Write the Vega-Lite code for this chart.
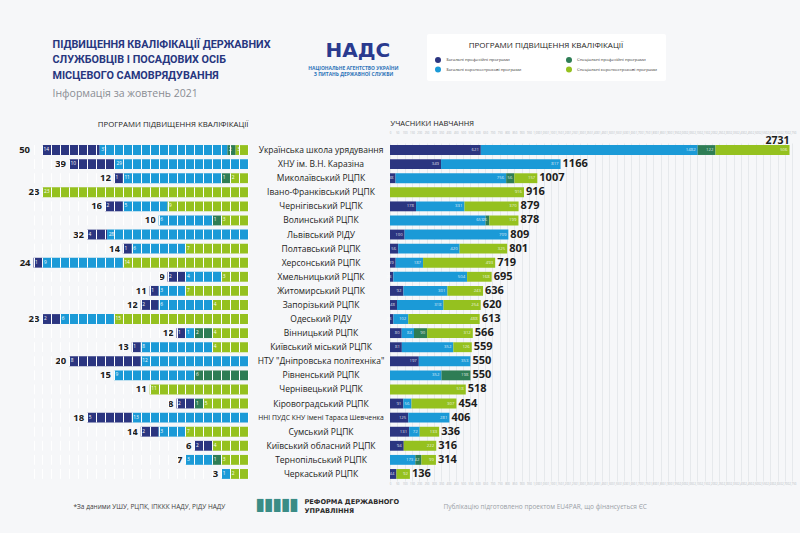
{
"$schema":"https://vega.github.io/schema/vega-lite/v6.json",
"width":800,"height":338,
"autosize":{"type":"none"},
"padding":{"left":0,"right":0,"top":143,"bottom":52},
"background":"#f6f7f9",
"config":{"font":"Open Sans","view":{"stroke":null},"mark":{"font":"Open Sans"},"axis":{"labelFont":"Open Sans","titleFont":"Open Sans"},"legend":{"labelFont":"Open Sans","titleFont":"Open Sans"}},
"datasets":{
"p":[
{"i":"Українська школа урядування","c":"A","n":14},{"i":"Українська школа урядування","c":"B","n":31},{"i":"Українська школа урядування","c":"C","n":2},{"i":"Українська школа урядування","c":"D","n":3},
{"i":"ХНУ ім. В.Н. Каразіна","c":"A","n":10},{"i":"ХНУ ім. В.Н. Каразіна","c":"B","n":29},
{"i":"Миколаївський РЦПК","c":"A","n":1},{"i":"Миколаївський РЦПК","c":"B","n":11},{"i":"Миколаївський РЦПК","c":"C","n":1},{"i":"Миколаївський РЦПК","c":"D","n":2},
{"i":"Івано-Франківський РЦПК","c":"D","n":23},
{"i":"Чернігівський РЦПК","c":"A","n":2},{"i":"Чернігівський РЦПК","c":"B","n":5},{"i":"Чернігівський РЦПК","c":"D","n":9},
{"i":"Волинський РЦПК","c":"B","n":6},{"i":"Волинський РЦПК","c":"C","n":1},{"i":"Волинський РЦПК","c":"D","n":3},
{"i":"Львівський РІДУ","c":"A","n":4},{"i":"Львівський РІДУ","c":"B","n":28},
{"i":"Полтавський РЦПК","c":"A","n":1},{"i":"Полтавський РЦПК","c":"B","n":6},{"i":"Полтавський РЦПК","c":"D","n":7},
{"i":"Херсонський РЦПК","c":"A","n":1},{"i":"Херсонський РЦПК","c":"B","n":9},{"i":"Херсонський РЦПК","c":"D","n":14},
{"i":"Хмельницький РЦПК","c":"A","n":2},{"i":"Хмельницький РЦПК","c":"B","n":4},{"i":"Хмельницький РЦПК","c":"D","n":3},
{"i":"Житомирський РЦПК","c":"A","n":1},{"i":"Житомирський РЦПК","c":"B","n":3},{"i":"Житомирський РЦПК","c":"D","n":7},
{"i":"Запорізький РЦПК","c":"A","n":2},{"i":"Запорізький РЦПК","c":"B","n":6},{"i":"Запорізький РЦПК","c":"D","n":4},
{"i":"Одеський РІДУ","c":"A","n":2},{"i":"Одеський РІДУ","c":"B","n":6},{"i":"Одеський РІДУ","c":"D","n":15},
{"i":"Вінницький РЦПК","c":"A","n":1},{"i":"Вінницький РЦПК","c":"B","n":1},{"i":"Вінницький РЦПК","c":"C","n":2},{"i":"Вінницький РЦПК","c":"D","n":4},
{"i":"Київський міський РЦПК","c":"A","n":1},{"i":"Київський міський РЦПК","c":"B","n":8},{"i":"Київський міський РЦПК","c":"D","n":4},
{"i":"НТУ \"Дніпровська політехніка\"","c":"A","n":8},{"i":"НТУ \"Дніпровська політехніка\"","c":"B","n":12},
{"i":"Рівненський РЦПК","c":"B","n":9},{"i":"Рівненський РЦПК","c":"C","n":6},
{"i":"Чернівецький РЦПК","c":"D","n":11},
{"i":"Кіровоградський РЦПК","c":"A","n":2},{"i":"Кіровоградський РЦПК","c":"C","n":1},{"i":"Кіровоградський РЦПК","c":"D","n":5},
{"i":"ННІ ПУДС КНУ імені Тараса Шевченка","c":"A","n":5},{"i":"ННІ ПУДС КНУ імені Тараса Шевченка","c":"B","n":13},
{"i":"Сумський РЦПК","c":"A","n":2},{"i":"Сумський РЦПК","c":"B","n":3},{"i":"Сумський РЦПК","c":"D","n":7},
{"i":"Київський обласний РЦПК","c":"A","n":2},{"i":"Київський обласний РЦПК","c":"D","n":4},
{"i":"Тернопільський РЦПК","c":"B","n":3},{"i":"Тернопільський РЦПК","c":"C","n":1},{"i":"Тернопільський РЦПК","c":"D","n":3},
{"i":"Черкаський РЦПК","c":"B","n":1},{"i":"Черкаський РЦПК","c":"D","n":2}
],
"pt":[
{"i":"Українська школа урядування","t":50},{"i":"ХНУ ім. В.Н. Каразіна","t":39},{"i":"Миколаївський РЦПК","t":12},{"i":"Івано-Франківський РЦПК","t":23},{"i":"Чернігівський РЦПК","t":16},{"i":"Волинський РЦПК","t":10},{"i":"Львівський РІДУ","t":32},{"i":"Полтавський РЦПК","t":14},{"i":"Херсонський РЦПК","t":24},{"i":"Хмельницький РЦПК","t":9},{"i":"Житомирський РЦПК","t":11},{"i":"Запорізький РЦПК","t":12},{"i":"Одеський РІДУ","t":23},{"i":"Вінницький РЦПК","t":12},{"i":"Київський міський РЦПК","t":13},{"i":"НТУ \"Дніпровська політехніка\"","t":20},{"i":"Рівненський РЦПК","t":15},{"i":"Чернівецький РЦПК","t":11},{"i":"Кіровоградський РЦПК","t":8},{"i":"ННІ ПУДС КНУ імені Тараса Шевченка","t":18},{"i":"Сумський РЦПК","t":14},{"i":"Київський обласний РЦПК","t":6},{"i":"Тернопільський РЦПК","t":7},{"i":"Черкаський РЦПК","t":3}
],
"u":[
{"i":"Українська школа урядування","c":"A","n":621},{"i":"Українська школа урядування","c":"B","n":1482},{"i":"Українська школа урядування","c":"C","n":122},{"i":"Українська школа урядування","c":"D","n":506},
{"i":"ХНУ ім. В.Н. Каразіна","c":"A","n":349},{"i":"ХНУ ім. В.Н. Каразіна","c":"B","n":817},
{"i":"Миколаївський РЦПК","c":"A","n":38},{"i":"Миколаївський РЦПК","c":"B","n":756},{"i":"Миколаївський РЦПК","c":"C","n":56},{"i":"Миколаївський РЦПК","c":"D","n":157},
{"i":"Івано-Франківський РЦПК","c":"D","n":916},
{"i":"Чернігівський РЦПК","c":"A","n":178},{"i":"Чернігівський РЦПК","c":"B","n":331},{"i":"Чернігівський РЦПК","c":"D","n":370},
{"i":"Волинський РЦПК","c":"B","n":653},{"i":"Волинський РЦПК","c":"C","n":26},{"i":"Волинський РЦПК","c":"D","n":199},
{"i":"Львівський РІДУ","c":"A","n":100},{"i":"Львівський РІДУ","c":"B","n":709},
{"i":"Полтавський РЦПК","c":"A","n":56},{"i":"Полтавський РЦПК","c":"B","n":420},{"i":"Полтавський РЦПК","c":"D","n":325},
{"i":"Херсонський РЦПК","c":"A","n":39},{"i":"Херсонський РЦПК","c":"B","n":187},{"i":"Херсонський РЦПК","c":"D","n":493},
{"i":"Хмельницький РЦПК","c":"A","n":23},{"i":"Хмельницький РЦПК","c":"B","n":504},{"i":"Хмельницький РЦПК","c":"D","n":168},
{"i":"Житомирський РЦПК","c":"A","n":92},{"i":"Житомирський РЦПК","c":"B","n":301},{"i":"Житомирський РЦПК","c":"D","n":243},
{"i":"Запорізький РЦПК","c":"A","n":48},{"i":"Запорізький РЦПК","c":"B","n":318},{"i":"Запорізький РЦПК","c":"D","n":254},
{"i":"Одеський РІДУ","c":"A","n":23},{"i":"Одеський РІДУ","c":"B","n":102},{"i":"Одеський РІДУ","c":"D","n":488},
{"i":"Вінницький РЦПК","c":"A","n":80},{"i":"Вінницький РЦПК","c":"B","n":84},{"i":"Вінницький РЦПК","c":"C","n":90},{"i":"Вінницький РЦПК","c":"D","n":312},
{"i":"Київський міський РЦПК","c":"A","n":81},{"i":"Київський міський РЦПК","c":"B","n":352},{"i":"Київський міський РЦПК","c":"D","n":126},
{"i":"НТУ \"Дніпровська політехніка\"","c":"A","n":197},{"i":"НТУ \"Дніпровська політехніка\"","c":"B","n":353},
{"i":"Рівненський РЦПК","c":"B","n":352},{"i":"Рівненський РЦПК","c":"C","n":198},
{"i":"Чернівецький РЦПК","c":"D","n":518},
{"i":"Кіровоградський РЦПК","c":"A","n":91},{"i":"Кіровоградський РЦПК","c":"B","n":56},{"i":"Кіровоградський РЦПК","c":"D","n":307},
{"i":"ННІ ПУДС КНУ імені Тараса Шевченка","c":"A","n":125},{"i":"ННІ ПУДС КНУ імені Тараса Шевченка","c":"B","n":281},
{"i":"Сумський РЦПК","c":"A","n":131},{"i":"Сумський РЦПК","c":"B","n":72},{"i":"Сумський РЦПК","c":"D","n":133},
{"i":"Київський обласний РЦПК","c":"A","n":94},{"i":"Київський обласний РЦПК","c":"D","n":222},
{"i":"Тернопільський РЦПК","c":"B","n":173},{"i":"Тернопільський РЦПК","c":"C","n":42},{"i":"Тернопільський РЦПК","c":"D","n":99},
{"i":"Черкаський РЦПК","c":"A","n":44},{"i":"Черкаський РЦПК","c":"D","n":92}
]
},
"encoding":{"y":{"field":"i","type":"nominal","title":null,
 "scale":{"domain":["Українська школа урядування","ХНУ ім. В.Н. Каразіна","Миколаївський РЦПК","Івано-Франківський РЦПК","Чернігівський РЦПК","Волинський РЦПК","Львівський РІДУ","Полтавський РЦПК","Херсонський РЦПК","Хмельницький РЦПК","Житомирський РЦПК","Запорізький РЦПК","Одеський РІДУ","Вінницький РЦПК","Київський міський РЦПК","НТУ \"Дніпровська політехніка\"","Рівненський РЦПК","Чернівецький РЦПК","Кіровоградський РЦПК","ННІ ПУДС КНУ імені Тараса Шевченка","Сумський РЦПК","Київський обласний РЦПК","Тернопільський РЦПК","Черкаський РЦПК"],"paddingInner":0.3,"paddingOuter":0.15},
 "axis":{"orient":"left","offset":-320.5,"labelAlign":"center","labelBaseline":"middle","labelPadding":0,"ticks":false,"tickSize":0,"domain":false,"grid":false,"labelLimit":300,"labelColor":"#1d1d1b","labelFontWeight":500,
  "labelFontSize":{"condition":{"test":"indexof(datum.label,'ННІ')==0","value":6.8},"value":8.5},
  "title":"▊▊▊▊▊","titleFont":"DejaVu Sans","titleFontSize":11,"titleColor":"#3a8c86","titleAngle":0,"titleX":-64,"titleY":362,"titleAlign":"left","titleBaseline":"middle"}}},
"layer":[
{"data":{"name":"p"},
 "transform":[{"filter":{"not":{"field":"i","oneOf":["Українська школа урядування","ХНУ ім. В.Н. Каразіна","Львівський РІДУ"]}}}],
 "layer":[
  {"mark":{"type":"bar"},
   "encoding":{"x":{"field":"n","type":"quantitative","stack":"zero","scale":{"domain":[0,24],"range":[248,33.5],"nice":false},
     "axis":{"orient":"top","labels":false,"ticks":false,"domain":false,"grid":true,"gridColor":"#ffffff","gridWidth":1,"gridDash":[9.86,4.22],"gridDashOffset":12.47,"tickCount":24,"zindex":1,
      "title":"ПРОГРАМИ ПІДВИЩЕННЯ КВАЛІФІКАЦІЇ","titleX":248,"titleY":-17,"titleAlign":"right","titleBaseline":"alphabetic","titleFontSize":7.8,"titleFontWeight":500,"titleColor":"#1d1d1b"}},
    "color":{"field":"c","type":"nominal","scale":{"domain":["A","B","C","D"],"range":["#2b3580","#1b9ad7","#2e7d55","#95c11f"]},"legend":{"orient":"none","legendX":427,"legendY":-109,"columns":2,"title":"ПРОГРАМИ ПІДВИЩЕННЯ КВАЛІФІКАЦІЇ","titleAnchor":"middle","titleFontSize":8,"titleFontWeight":500,"titleColor":"#1d1d1b","titlePadding":7,"symbolType":"circle","symbolSize":36,"symbolStrokeWidth":0,"labelFontSize":4.3,"labelColor":"#333333","labelOffset":5,"columnPadding":44,"rowPadding":3.5,"padding":8,"fillColor":"#ffffff","cornerRadius":2,"labelExpr":"datum.label=='A'?'Загальні професійні програми':datum.label=='B'?'Загальні короткострокові програми':datum.label=='C'?'Спеціальні професійні програми':'Спеціальні короткострокові програми'"}},
    "order":{"field":"c","sort":"descending"}}},
  {"mark":{"type":"text","align":"left","baseline":"middle","dx":1.5,"fontSize":4.8,"fill":"#ffffff"},
   "encoding":{"x":{"field":"n","type":"quantitative","stack":"zero","scale":{"domain":[0,24],"range":[248,33.5],"nice":false}},
    "detail":{"field":"c"},"order":{"field":"c","sort":"descending"},"text":{"field":"n","type":"quantitative","format":"d"}}}
 ]},
{"data":{"name":"p"},
 "transform":[{"filter":{"not":{"field":"i","oneOf":["Українська школа урядування","ХНУ ім. В.Н. Каразіна","Львівський РІДУ"]}}},{"lookup":"i","from":{"data":{"name":"pt"},"key":"i","fields":["t"]}}],
 "mark":{"type":"text","align":"right","baseline":"middle","dx":-3,"fontSize":9.5,"fontWeight":700,"fill":"#1d1d1b"},
 "encoding":{"x":{"aggregate":"sum","field":"n","type":"quantitative","scale":{"domain":[0,24],"range":[248,33.5],"nice":false},
   "axis":{"orient":"top","labels":false,"ticks":false,"domain":false,"grid":false,"title":["ПІДВИЩЕННЯ КВАЛІФІКАЦІЇ ДЕРЖАВНИХ","СЛУЖБОВЦІВ І ПОСАДОВИХ ОСІБ","МІСЦЕВОГО САМОВРЯДУВАННЯ"],"titleX":52,"titleY":-95.7,"titleAlign":"left","titleBaseline":"alphabetic","titleFont":"Roboto","titleFontSize":10.8,"titleFontWeight":700,"titleColor":"#27367f","titleLineHeight":15.6}},
  "text":{"aggregate":"max","field":"t","type":"quantitative","format":"d"}}},
{"data":{"name":"p"},
 "transform":[{"filter":{"field":"i","equal":"Українська школа урядування"}}],
 "layer":[
  {"mark":{"type":"bar"},
   "encoding":{"x":{"field":"n","type":"quantitative","stack":"zero","scale":{"domain":[0,50],"range":[248,42],"nice":false},
     "axis":{"orient":"bottom","labels":false,"ticks":false,"domain":false,"grid":false,"title":"*За даними УШУ, РЦПК, ІПККК НАДУ, РІДУ НАДУ","titleX":73,"titleY":27.3,"titleAlign":"left","titleBaseline":"alphabetic","titleFontSize":6.5,"titleFontWeight":400,"titleColor":"#3c3c3c"}},
    "color":{"field":"c","type":"nominal","scale":{"domain":["A","B","C","D"],"range":["#2b3580","#1b9ad7","#2e7d55","#95c11f"]},"legend":{"orient":"none","legendX":427,"legendY":-109,"columns":2,"title":"ПРОГРАМИ ПІДВИЩЕННЯ КВАЛІФІКАЦІЇ","titleAnchor":"middle","titleFontSize":8,"titleFontWeight":500,"titleColor":"#1d1d1b","titlePadding":7,"symbolType":"circle","symbolSize":36,"symbolStrokeWidth":0,"labelFontSize":4.3,"labelColor":"#333333","labelOffset":5,"columnPadding":44,"rowPadding":3.5,"padding":8,"fillColor":"#ffffff","cornerRadius":2,"labelExpr":"datum.label=='A'?'Загальні професійні програми':datum.label=='B'?'Загальні короткострокові програми':datum.label=='C'?'Спеціальні професійні програми':'Спеціальні короткострокові програми'"}},
    "order":{"field":"c","sort":"descending"}}},
  {"mark":{"type":"text","align":"left","baseline":"middle","dx":1.5,"fontSize":4.8,"fill":"#ffffff"},
   "encoding":{"x":{"field":"n","type":"quantitative","stack":"zero","scale":{"domain":[0,50],"range":[248,42],"nice":false}},
    "detail":{"field":"c"},"order":{"field":"c","sort":"descending"},"text":{"field":"n","type":"quantitative","format":"d"}}},
  {"transform":[{"lookup":"i","from":{"data":{"name":"pt"},"key":"i","fields":["t"]}}],
   "mark":{"type":"text","align":"right","baseline":"middle","dx":-12,"fontSize":9.5,"fontWeight":700,"fill":"#1d1d1b"},
   "encoding":{"x":{"aggregate":"sum","field":"n","type":"quantitative","scale":{"domain":[0,50],"range":[248,42],"nice":false}},
    "text":{"aggregate":"max","field":"t","type":"quantitative","format":"d"}}}
 ]},
{"data":{"name":"p"},
 "transform":[{"filter":{"field":"i","equal":"ХНУ ім. В.Н. Каразіна"}}],
 "layer":[
  {"mark":{"type":"bar"},
   "encoding":{"x":{"field":"n","type":"quantitative","stack":"zero","scale":{"domain":[0,39],"range":[248,69],"nice":false},
     "axis":{"orient":"top","labels":false,"ticks":false,"domain":false,"grid":false,"title":"НАДС","titleX":325,"titleY":-86.3,"titleAlign":"left","titleBaseline":"alphabetic","titleFont":"DejaVu Sans","titleFontSize":20,"titleFontWeight":700,"titleColor":"#2a3a8f"}},
    "color":{"field":"c","type":"nominal","scale":{"domain":["A","B","C","D"],"range":["#2b3580","#1b9ad7","#2e7d55","#95c11f"]},"legend":{"orient":"none","legendX":427,"legendY":-109,"columns":2,"title":"ПРОГРАМИ ПІДВИЩЕННЯ КВАЛІФІКАЦІЇ","titleAnchor":"middle","titleFontSize":8,"titleFontWeight":500,"titleColor":"#1d1d1b","titlePadding":7,"symbolType":"circle","symbolSize":36,"symbolStrokeWidth":0,"labelFontSize":4.3,"labelColor":"#333333","labelOffset":5,"columnPadding":44,"rowPadding":3.5,"padding":8,"fillColor":"#ffffff","cornerRadius":2,"labelExpr":"datum.label=='A'?'Загальні професійні програми':datum.label=='B'?'Загальні короткострокові програми':datum.label=='C'?'Спеціальні професійні програми':'Спеціальні короткострокові програми'"}},
    "order":{"field":"c","sort":"descending"}}},
  {"mark":{"type":"text","align":"left","baseline":"middle","dx":1.5,"fontSize":4.8,"fill":"#ffffff"},
   "encoding":{"x":{"field":"n","type":"quantitative","stack":"zero","scale":{"domain":[0,39],"range":[248,69],"nice":false}},
    "detail":{"field":"c"},"order":{"field":"c","sort":"descending"},"text":{"field":"n","type":"quantitative","format":"d"}}},
  {"transform":[{"lookup":"i","from":{"data":{"name":"pt"},"key":"i","fields":["t"]}}],
   "mark":{"type":"text","align":"right","baseline":"middle","dx":-3,"fontSize":9.5,"fontWeight":700,"fill":"#1d1d1b"},
   "encoding":{"x":{"aggregate":"sum","field":"n","type":"quantitative","scale":{"domain":[0,39],"range":[248,69],"nice":false}},
    "text":{"aggregate":"max","field":"t","type":"quantitative","format":"d"}}}
 ]},
{"data":{"name":"p"},
 "transform":[{"filter":{"field":"i","equal":"Львівський РІДУ"}}],
 "layer":[
  {"mark":{"type":"bar"},
   "encoding":{"x":{"field":"n","type":"quantitative","stack":"zero","scale":{"domain":[0,32],"range":[248,87],"nice":false},
     "axis":{"orient":"top","labels":false,"ticks":false,"domain":false,"grid":false,"title":["НАЦІОНАЛЬНЕ АГЕНТСТВО УКРАЇНИ","З ПИТАНЬ ДЕРЖАВНОЇ СЛУЖБИ"],"titleX":353,"titleY":-73.9,"titleAlign":"center","titleBaseline":"alphabetic","titleFontSize":4.9,"titleFontWeight":700,"titleColor":"#2b72b8","titleLineHeight":6}},
    "color":{"field":"c","type":"nominal","scale":{"domain":["A","B","C","D"],"range":["#2b3580","#1b9ad7","#2e7d55","#95c11f"]},"legend":{"orient":"none","legendX":427,"legendY":-109,"columns":2,"title":"ПРОГРАМИ ПІДВИЩЕННЯ КВАЛІФІКАЦІЇ","titleAnchor":"middle","titleFontSize":8,"titleFontWeight":500,"titleColor":"#1d1d1b","titlePadding":7,"symbolType":"circle","symbolSize":36,"symbolStrokeWidth":0,"labelFontSize":4.3,"labelColor":"#333333","labelOffset":5,"columnPadding":44,"rowPadding":3.5,"padding":8,"fillColor":"#ffffff","cornerRadius":2,"labelExpr":"datum.label=='A'?'Загальні професійні програми':datum.label=='B'?'Загальні короткострокові програми':datum.label=='C'?'Спеціальні професійні програми':'Спеціальні короткострокові програми'"}},
    "order":{"field":"c","sort":"descending"}}},
  {"mark":{"type":"text","align":"left","baseline":"middle","dx":1.5,"fontSize":4.8,"fill":"#ffffff"},
   "encoding":{"x":{"field":"n","type":"quantitative","stack":"zero","scale":{"domain":[0,32],"range":[248,87],"nice":false}},
    "detail":{"field":"c"},"order":{"field":"c","sort":"descending"},"text":{"field":"n","type":"quantitative","format":"d"}}},
  {"transform":[{"lookup":"i","from":{"data":{"name":"pt"},"key":"i","fields":["t"]}}],
   "mark":{"type":"text","align":"right","baseline":"middle","dx":-3,"fontSize":9.5,"fontWeight":700,"fill":"#1d1d1b"},
   "encoding":{"x":{"aggregate":"sum","field":"n","type":"quantitative","scale":{"domain":[0,32],"range":[248,87],"nice":false}},
    "text":{"aggregate":"max","field":"t","type":"quantitative","format":"d"}}}
 ]},
{"data":{"name":"u"},
 "mark":{"type":"bar"},
 "encoding":{"x":{"field":"n","type":"quantitative","stack":"zero","scale":{"domain":[0,2750],"range":[390,792.3],"nice":false},
   "axis":{"orient":"top","labels":true,"labelFontSize":2.8,"labelColor":"#b4b8be","labelPadding":9,"labelOverlap":false,"labelFlush":false,"tickCount":55,"ticks":false,"domain":false,"grid":true,"gridColor":"#e2e4e9","gridWidth":0.8,
    "title":"УЧАСНИКИ НАВЧАННЯ","titleX":390,"titleY":-18,"titleAlign":"left","titleBaseline":"alphabetic","titleFontSize":7.5,"titleFontWeight":500,"titleColor":"#1d1d1b"}},
  "color":{"field":"c","type":"nominal","scale":{"domain":["A","B","C","D"],"range":["#2b3580","#1b9ad7","#2e7d55","#95c11f"]},"legend":{"orient":"none","legendX":427,"legendY":-109,"columns":2,"title":"ПРОГРАМИ ПІДВИЩЕННЯ КВАЛІФІКАЦІЇ","titleAnchor":"middle","titleFontSize":8,"titleFontWeight":500,"titleColor":"#1d1d1b","titlePadding":7,"symbolType":"circle","symbolSize":36,"symbolStrokeWidth":0,"labelFontSize":4.3,"labelColor":"#333333","labelOffset":5,"columnPadding":44,"rowPadding":3.5,"padding":8,"fillColor":"#ffffff","cornerRadius":2,"labelExpr":"datum.label=='A'?'Загальні професійні програми':datum.label=='B'?'Загальні короткострокові програми':datum.label=='C'?'Спеціальні професійні програми':'Спеціальні короткострокові програми'"}},
  "order":{"field":"c","sort":"ascending"}}},
{"data":{"name":"u"},
 "mark":{"type":"text","align":"right","baseline":"middle","dx":-2,"fontSize":4.3,"fill":"#ffffff","fillOpacity":0.85},
 "encoding":{"x":{"field":"n","type":"quantitative","stack":"zero","scale":{"domain":[0,2750],"range":[390,792.3],"nice":false},
   "axis":{"orient":"bottom","labels":true,"labelFontSize":2.8,"labelColor":"#b4b8be","labelPadding":1.5,"labelOverlap":false,"labelFlush":false,"tickCount":55,"ticks":false,"domain":false,"grid":false,
    "title":"Публікацію підготовлено проектом EU4PAR, що фінансується ЄС","titleX":443,"titleY":27.3,"titleAlign":"left","titleBaseline":"alphabetic","titleFontSize":6.5,"titleFontWeight":400,"titleColor":"#9a9ea6"}},
  "detail":{"field":"c"},"order":{"field":"c","sort":"ascending"},"text":{"field":"n","type":"quantitative","format":"d"}}},
{"data":{"name":"u"},
 "transform":[{"filter":{"not":{"field":"i","equal":"Українська школа урядування"}}}],
 "mark":{"type":"text","align":"left","baseline":"middle","dx":2,"fontSize":11,"fontWeight":700,"fill":"#1d1d1b"},
 "encoding":{"x":{"aggregate":"sum","field":"n","type":"quantitative","scale":{"domain":[0,2750],"range":[390,792.3],"nice":false},
   "axis":{"orient":"bottom","labels":false,"ticks":false,"domain":false,"grid":false,"title":["РЕФОРМА ДЕРЖАВНОГО","УПРАВЛІННЯ"],"titleX":304,"titleY":22.5,"titleAlign":"left","titleBaseline":"alphabetic","titleFont":"DejaVu Sans","titleFontSize":6.6,"titleFontWeight":700,"titleColor":"#2a2a2a","titleLineHeight":9}},
  "text":{"aggregate":"sum","field":"n","type":"quantitative","format":"d"}}},
{"data":{"name":"u"},
 "transform":[{"filter":{"field":"i","equal":"Українська школа урядування"}}],
 "mark":{"type":"text","align":"right","baseline":"middle","dy":-9,"fontSize":10.5,"fontWeight":700,"fill":"#1d1d1b"},
 "encoding":{"x":{"aggregate":"sum","field":"n","type":"quantitative","scale":{"domain":[0,2750],"range":[390,792.3],"nice":false},
   "axis":{"orient":"top","labels":false,"ticks":false,"domain":false,"grid":false,"title":"Інформація за жовтень 2021","titleX":52,"titleY":-47,"titleAlign":"left","titleBaseline":"alphabetic","titleFontSize":10.5,"titleFontWeight":400,"titleColor":"#8a8d94"}},
  "text":{"aggregate":"sum","field":"n","type":"quantitative","format":"d"}}}
],
"resolve":{"scale":{"x":"independent"},"axis":{"x":"independent"}}
}
